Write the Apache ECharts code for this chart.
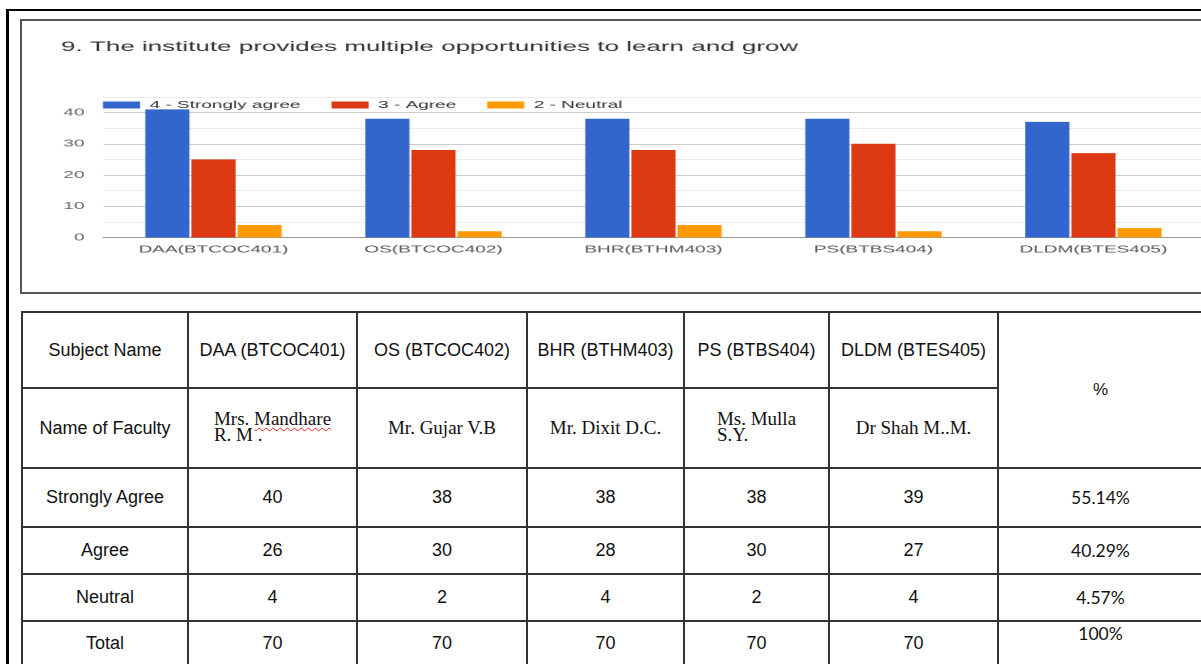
<!DOCTYPE html>
<html>
<head>
<meta charset="utf-8">
<title>Feedback Q9</title>
<script src="https://cdn.jsdelivr.net/npm/echarts@6/dist/echarts.min.js"></script>
<style>
  html, body {
    margin: 0;
    padding: 0;
    background: #fff;
    width: 1201px;
    height: 664px;
    overflow: hidden;
    position: relative;
  }
  .frame {
    position: absolute;
    left: 6px;
    top: 9px;
    width: 1300px;
    height: 700px;
    border-left: 3px solid #000;
    border-top: 2px solid #000;
  }
  .chart-box {
    position: absolute;
    left: 20px;
    top: 19px;
    width: 1300px;
    height: 271px;
    border: 2px solid #555;
  }
  /* the screenshot of the chart is stretched sideways, so the canvas is too */
  #chart {
    position: absolute;
    left: 22px;
    top: 21px;
    width: 641px;
    height: 271px;
    transform: scaleX(1.9);
    transform-origin: 0 0;
  }
  table.report {
    position: absolute;
    left: 21px;
    top: 311px;
    border-collapse: collapse;
    table-layout: fixed;
    font-family: "Liberation Sans", Arial, sans-serif;
    font-size: 18px;
    color: #111;
  }
  table.report td {
    border: 2px solid #333;
    padding: 0;
    text-align: center;
    vertical-align: middle;
    white-space: nowrap;
    overflow: hidden;
  }
  table.report td.faculty {
    font-family: "Liberation Serif", "Times New Roman", serif;
    font-size: 19px;
  }
  td.faculty span.name {
    display: inline-block;
    text-align: left;
    line-height: 16px;
  }
  .spell {
    text-decoration: underline wavy #e02020;
    text-decoration-thickness: 1px;
    text-underline-offset: 2px;
  }
  table.report td.pct {
    font-family: Lato, "Open Sans", sans-serif;
    font-size: 17.5px;
  }
  table.report td.pct-head {
    font-size: 17px;
  }
  table.report td.top {
    vertical-align: top;
    padding-top: 1px;
  }
</style>
</head>
<body>
<div class="frame"></div>
<div class="chart-box"></div>
<div id="chart"></div>
<table class="report" id="report"></table>

<script>
// ---- chart data (as drawn in the bar chart) ----
const chartTitle = '9. The institute provides multiple opportunities to learn and grow';
const categories = ['DAA(BTCOC401)', 'OS(BTCOC402)', 'BHR(BTHM403)', 'PS(BTBS404)', 'DLDM(BTES405)'];
const seriesNames = ['4 - Strongly agree', '3 - Agree', '2 - Neutral'];
const stronglyAgree = [41, 38, 38, 38, 37];
const agree = [25, 28, 28, 30, 27];
const neutral = [4, 2, 4, 2, 3];
const yTicks = [0, 10, 20, 30, 40];

// ---- table data ----
const subjects = ['DAA (BTCOC401)', 'OS (BTCOC402)', 'BHR (BTHM403)', 'PS (BTBS404)', 'DLDM (BTES405)'];
const faculty = [['Mrs. Mandhare', 'R. M .'], ['Mr. Gujar V.B'], ['Mr. Dixit D.C.'], ['Ms. Mulla', 'S.Y.'], ['Dr Shah M..M.']];
const spellFlagged = ['Mandhare'];
const rowLabels = ['Strongly Agree', 'Agree', 'Neutral', 'Total'];
const tableStrongly = [40, 38, 38, 38, 39];
const tableAgree = [26, 30, 28, 30, 27];
const tableNeutral = [4, 2, 4, 2, 4];
const tableTotal = [70, 70, 70, 70, 70];
const percents = ['55.14%', '40.29%', '4.57%', '100%'];

const colWidths = [166, 169, 170, 157, 145, 169, 205];
const rowHeights = [76, 80, 59, 47, 47, 44];

function buildTable() {
  const rows = [tableStrongly, tableAgree, tableNeutral, tableTotal];
  const table = document.getElementById('report');
  table.style.width = colWidths.reduce((a, b) => a + b, 0) + 'px';

  let html = '<colgroup>' + colWidths.map(w => '<col style="width:' + w + 'px">').join('') + '</colgroup>';

  html += '<tr style="height:' + rowHeights[0] + 'px"><td>Subject Name</td>';
  subjects.forEach(s => { html += '<td>' + s + '</td>'; });
  html += '<td rowspan="2" class="pct-head">%</td></tr>';

  html += '<tr style="height:' + rowHeights[1] + 'px"><td>Name of Faculty</td>';
  faculty.forEach(lines => {
    const text = lines.map(l => {
      let t = l;
      spellFlagged.forEach(w => { t = t.replace(w, '<span class="spell">' + w + '</span>'); });
      return t;
    }).join('<br>');
    html += '<td class="faculty"><span class="name">' + text + '</span></td>';
  });
  html += '</tr>';

  rows.forEach((vals, i) => {
    html += '<tr style="height:' + rowHeights[i + 2] + 'px"><td>' + rowLabels[i] + '</td>';
    vals.forEach(v => { html += '<td>' + v + '</td>'; });
    html += '<td class="pct' + (i === 3 ? ' top' : '') + '">' + percents[i] + '</td></tr>';
  });

  table.innerHTML = html;
}

function initChart() {
  const myChart = echarts.init(document.getElementById('chart'), null, { devicePixelRatio: 2 });
  const font = '"Liberation Sans", Arial, sans-serif';

  const option = {
    animation: false,
    color: ['#3366cc', '#dc3912', '#ff9900'],
    textStyle: { fontFamily: font },
    title: {
      text: chartTitle,
      left: 20.5,
      top: 19,
      padding: 0,
      textStyle: { fontFamily: font, fontSize: 13.7, fontWeight: 'normal', color: '#333' }
    },
    legend: {
      data: seriesNames,
      left: 42.6,
      top: 78,
      padding: 0,
      icon: 'rect',
      itemWidth: 19.5,
      itemHeight: 7,
      itemGap: 16.3,
      selectedMode: false,
      textStyle: { fontFamily: font, fontSize: 10, color: '#333', lineHeight: 12 }
    },
    grid: {
      left: 42.9,
      right: 19.2,
      top: 75.9,
      bottom: 54.5
    },
    xAxis: {
      type: 'category',
      data: categories,
      axisTick: { show: false },
      axisLine: { lineStyle: { color: '#999' } },
      axisLabel: { margin: 7, fontSize: 10, color: '#555', interval: 0, fontFamily: font }
    },
    yAxis: {
      type: 'value',
      min: 0,
      max: 45,
      interval: 5,
      axisLine: { show: false },
      axisTick: { show: false },
      axisLabel: {
        margin: 10,
        fontSize: 10,
        color: '#666',
        fontFamily: font,
        formatter: v => (yTicks.indexOf(v) >= 0 ? String(v) : '')
      },
      splitLine: { lineStyle: { color: ['#cccccc', '#ebebeb'] } }
    },
    series: [
      { name: seriesNames[0], type: 'bar', data: stronglyAgree, barGap: '4.5%', barCategoryGap: '38%' },
      { name: seriesNames[1], type: 'bar', data: agree, barGap: '4.5%', barCategoryGap: '38%' },
      { name: seriesNames[2], type: 'bar', data: neutral, barGap: '4.5%', barCategoryGap: '38%' }
    ]
  };
  myChart.setOption(option);
}

buildTable();
initChart();
</script>
</body>
</html>
